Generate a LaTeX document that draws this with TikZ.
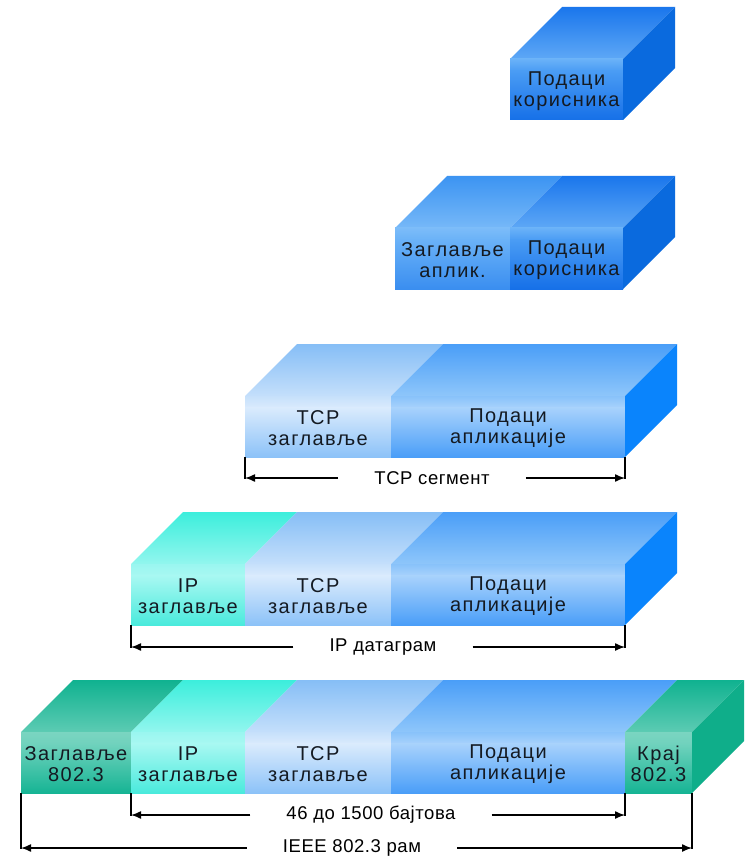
\documentclass[tikz,border=0pt]{standalone}
\usepackage{fontspec}
\setmainfont{Liberation Sans}
\newfontfamily\segfont[LetterSpace=7]{Liberation Sans}
\newfontfamily\brfont[LetterSpace=3]{Liberation Sans}
\usetikzlibrary{arrows.meta}

% ---- colours: TB/TF top face back/front, FT/FM/FB front face top/band/bottom, R right face
% user data (dark blue)
\definecolor{udTB}{HTML}{1A76EC}\definecolor{udTF}{HTML}{5EA8F6}
\definecolor{udFT}{HTML}{6AB2F8}\definecolor{udFM}{HTML}{4A9CF4}\definecolor{udFB}{HTML}{1670E8}
\definecolor{udR}{HTML}{0A6ADE}
% application header
\definecolor{ahTB}{HTML}{3C94F2}\definecolor{ahTF}{HTML}{76B8F8}
\definecolor{ahFT}{HTML}{7CBCF9}\definecolor{ahFM}{HTML}{6AB2F8}\definecolor{ahFB}{HTML}{3A8EF0}
% application data
\definecolor{adTB}{HTML}{4A9EF8}\definecolor{adTF}{HTML}{8EC6FA}
\definecolor{adFT}{HTML}{88C2FA}\definecolor{adFM}{HTML}{A8D2FC}\definecolor{adFB}{HTML}{4A9EF8}
\definecolor{adR}{HTML}{0A84FC}
% TCP header
\definecolor{tcTB}{HTML}{86BEF6}\definecolor{tcTF}{HTML}{C4DFFB}
\definecolor{tcFT}{HTML}{C6E0FB}\definecolor{tcFM}{HTML}{DAEBFD}\definecolor{tcFB}{HTML}{8CC2F8}
% IP header
\definecolor{ipTB}{HTML}{3CEEDC}\definecolor{ipTF}{HTML}{92F6EE}
\definecolor{ipFT}{HTML}{9AF6F0}\definecolor{ipFM}{HTML}{A8F8F2}\definecolor{ipFB}{HTML}{4AEADC}
% 802.3 header / trailer
\definecolor{ehTB}{HTML}{10B290}\definecolor{ehTF}{HTML}{5CCBB3}
\definecolor{ehFT}{HTML}{7AD5C1}\definecolor{ehFM}{HTML}{70D2BD}\definecolor{ehFB}{HTML}{16B494}
\definecolor{ehR}{HTML}{0FAE8A}
\definecolor{txt}{HTML}{141A22}

% cube geometry (in px)
\newcommand\cubeD{52}
\newcommand\cubeH{61}
\newcommand\cubeB{12}

% one block of a stack: #1 left x, #2 right x, #3 top y of front face, #4 colour prefix
\newcommand{\seg}[4]{%
  \shade[top color=#4TB, bottom color=#4TF]
    (#1,#3) -- ({#1+\cubeD},{#3-\cubeD}) -- ({#2+\cubeD},{#3-\cubeD}) -- (#2,#3) -- cycle;
  \shade[top color=#4FT, bottom color=#4FM] (#1,#3) rectangle (#2,{#3+\cubeB});
  \shade[top color=#4FM, bottom color=#4FB] (#1,{#3+\cubeB-0.4}) rectangle (#2,{#3+\cubeH});
}
% right-hand face of a stack: #1 right x, #2 top y, #3 colour
\newcommand{\sideface}[3]{%
  \fill[#3] (#1,#2) -- ({#1+\cubeD},{#2-\cubeD}) -- ({#1+\cubeD},{#2-\cubeD+\cubeH})
    -- (#1,{#2+\cubeH}) -- cycle;
}

\tikzset{
  seglabel/.style={font={\segfont\fontsize{20}{21}\selectfont}, text=txt,
    align=center, inner sep=0pt},
  brlabel/.style={font={\brfont\fontsize{18.5}{19}\selectfont}, text=black,
    inner xsep=36pt, inner ysep=2pt},
  bracket/.style={line width=1.4pt, draw=black},
  brarrow/.style={bracket, -{Latex[length=10pt,width=8pt]}},
}

\begin{document}
\begin{tikzpicture}[x=1pt, y=-1pt]
\useasboundingbox[fill=white] (0,0) rectangle (748,858);

% ---- row 1: user data
\seg{510}{623}{59}{ud}
\sideface{623}{59}{udR}
\node[seglabel] (r1ud) at (566.5,91) {Подаци\\корисника};

% ---- row 2: application header + user data
\seg{395}{510}{228}{ah}
\seg{510}{623}{228}{ud}
\sideface{623}{228}{udR}
\node[seglabel] (r2ah) at (452.5,260) {Заглавље\\аплик.};
\node[seglabel] (r2ud) at (566.5,260) {Подаци\\корисника};

% ---- row 3: TCP segment
\seg{245}{391}{396}{tc}
\seg{391}{625}{396}{ad}
\sideface{625}{396}{adR}
\node[seglabel] (r3tc) at (318,428) {TCP\\заглавље};
\node[seglabel] (r3ad) at (508,428) {Подаци\\апликације};

\coordinate (b3la) at (245,{396+\cubeH});
\coordinate (b3lb) at (245,478);
\coordinate (b3ra) at (625,{396+\cubeH});
\coordinate (b3rb) at (625,478);
\node[brlabel] (b3lab) at (432,478) {TCP сегмент};
\draw[bracket] (b3la) -- ([yshift=-1pt]b3lb);
\draw[bracket] (b3ra) -- ([yshift=-1pt]b3rb);
\draw[brarrow] (b3lab) -- (b3lb);
\draw[brarrow] (b3lab) -- (b3rb);

% ---- row 4: IP datagram
\seg{131}{245}{564}{ip}
\seg{245}{391}{564}{tc}
\seg{391}{625}{564}{ad}
\sideface{625}{564}{adR}
\node[seglabel] (r4ip) at (188,596) {IP\\заглавље};
\node[seglabel] (r4tc) at (318,596) {TCP\\заглавље};
\node[seglabel] (r4ad) at (508,596) {Подаци\\апликације};

\coordinate (b4la) at (131,{564+\cubeH});
\coordinate (b4lb) at (131,647);
\coordinate (b4ra) at (625,{564+\cubeH});
\coordinate (b4rb) at (625,647);
\node[brlabel] (b4lab) at (383,647) {IP датаграм};
\draw[bracket] (b4la) -- ([yshift=-1pt]b4lb);
\draw[bracket] (b4ra) -- ([yshift=-1pt]b4rb);
\draw[brarrow] (b4lab) -- (b4lb);
\draw[brarrow] (b4lab) -- (b4rb);

% ---- row 5: IEEE 802.3 frame
\seg{21}{131}{732}{eh}
\seg{131}{245}{732}{ip}
\seg{245}{391}{732}{tc}
\seg{391}{625}{732}{ad}
\seg{625}{692}{732}{eh}
\sideface{692}{732}{ehR}
\node[seglabel] (r5eh) at (76,764) {Заглавље\\802.3};
\node[seglabel] (r5ip) at (188,764) {IP\\заглавље};
\node[seglabel] (r5tc) at (318,764) {TCP\\заглавље};
\node[seglabel] (r5ad) at (508,764) {Подаци\\апликације};
\node[seglabel] (r5tr) at (658.5,764) {Крај\\802.3};

\coordinate (b5la) at (131,{732+\cubeH});
\coordinate (b5lb) at (131,815);
\coordinate (b5ra) at (625,{732+\cubeH});
\coordinate (b5rb) at (625,815);
\node[brlabel] (b5lab) at (371,815) {46 до 1500 бајтова};
\draw[bracket] (b5la) -- ([yshift=-1pt]b5lb);
\draw[bracket] (b5ra) -- ([yshift=-1pt]b5rb);
\draw[brarrow] (b5lab) -- (b5lb);
\draw[brarrow] (b5lab) -- (b5rb);

\coordinate (b6la) at (21,{732+\cubeH});
\coordinate (b6lb) at (21,848);
\coordinate (b6ra) at (692,{732+\cubeH});
\coordinate (b6rb) at (692,848);
\node[brlabel] (b6lab) at (352,848) {IEEE 802.3 рам};
\draw[bracket] (b6la) -- ([yshift=-1pt]b6lb);
\draw[bracket] (b6ra) -- ([yshift=-1pt]b6rb);
\draw[brarrow] (b6lab) -- (b6lb);
\draw[brarrow] (b6lab) -- (b6rb);
\end{tikzpicture}
\end{document}
